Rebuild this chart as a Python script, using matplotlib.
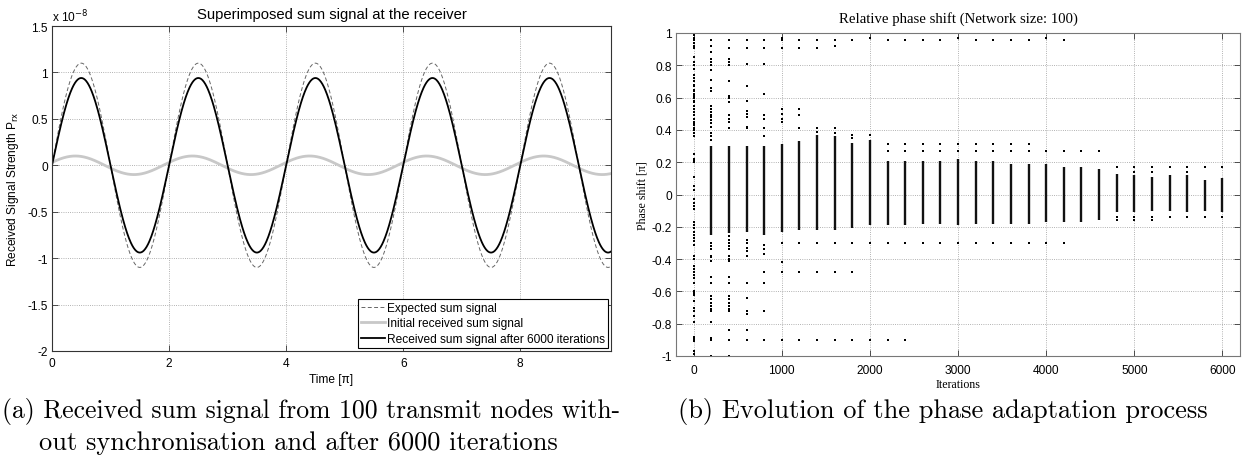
import numpy as np
import matplotlib
matplotlib.use("Agg")
import matplotlib.pyplot as plt

plt.rcParams["axes.unicode_minus"] = False
plt.rcParams["font.family"] = ["Liberation Sans", "DejaVu Sans"]

# ---- left panel: sum signal at the receiver (units of pi on the time axis)
time_end = 9.55
expected_amp = 1.10e-8
initial_amp = 0.10e-8
initial_phase = 0.10      # lead in units of pi
received_amp = 0.94e-8
y_scale = 1e-8

# ---- right panel: phase shift of each node, every 200 iterations
iterations = [0, 200, 400, 600, 800, 1000, 1200, 1400, 1600, 1800, 2000,
              2200, 2400, 2600, 2800, 3000, 3200, 3400, 3600, 3800, 4000,
              4200, 4400, 4600, 4800, 5000, 5200, 5400, 5600, 5800, 6000]

# dense core of each column (lowest, highest phase); nan = no dense core
band_lo = [np.nan, -0.25, -0.24, -0.23, -0.25, -0.23, -0.22, -0.22, -0.22, -0.21, -0.19,
           -0.19, -0.19, -0.18, -0.18, -0.19, -0.18, -0.18, -0.18, -0.18, -0.17,
           -0.17, -0.17, -0.16, -0.11, -0.11, -0.10, -0.10, -0.11, -0.10, -0.11]
band_hi = [np.nan, 0.30, 0.30, 0.30, 0.30, 0.31, 0.33, 0.37, 0.36, 0.32, 0.34,
           0.21, 0.21, 0.21, 0.21, 0.22, 0.21, 0.21, 0.19, 0.19, 0.19,
           0.17, 0.17, 0.16, 0.13, 0.12, 0.11, 0.12, 0.12, 0.09, 0.10]

# single nodes outside the dense core
scattered = [
    [0.99, 0.97, 0.955, 0.94, 0.92, 0.91, 0.85, 0.82, 0.80, 0.78, 0.74, 0.72, 0.70,
     0.68, 0.67, 0.65, 0.64, 0.62, 0.61, 0.60, 0.58, 0.57, 0.55, 0.53, 0.51, 0.49,
     0.47, 0.45, 0.44, 0.43, 0.41, 0.40, 0.38, 0.36, 0.25, 0.22, 0.21, 0.20, 0.11,
     0.05, 0.03, -0.03, -0.05, -0.07, -0.09, -0.17, -0.19, -0.21, -0.23, -0.25,
     -0.27, -0.29, -0.31, -0.38, -0.40, -0.44, -0.46, -0.48, -0.50, -0.52, -0.55,
     -0.60, -0.61, -0.62, -0.66, -0.70, -0.72, -0.75, -0.79, -0.88, -0.89, -0.90,
     -0.91, -0.97, -0.99],
    [1.0, 0.955, 0.92, 0.88, 0.84, 0.82, 0.80, 0.77, 0.71, 0.66, 0.64, 0.55, 0.53,
     0.51, 0.49, 0.48, 0.46, 0.44, 0.42, 0.38, 0.36, 0.34, -0.30, -0.32, -0.34,
     -0.38, -0.39, -0.41, -0.51, -0.55, -0.63, -0.65, -0.67, -0.69, -0.71, -0.72,
     -0.79, -0.89, -0.90, -1.0],
    [0.955, 0.91, 0.84, 0.82, 0.80, 0.70, 0.61, 0.60, 0.57, 0.49, 0.47, 0.45, 0.41,
     -0.26, -0.28, -0.30, -0.32, -0.34, -0.38, -0.40, -0.41, -0.51, -0.55, -0.63,
     -0.65, -0.67, -0.69, -0.71, -0.72, -0.84, -0.90, -1.0],
    [0.955, 0.91, 0.81, 0.67, 0.58, 0.52, 0.50, 0.48, 0.42, 0.41, -0.28, -0.30,
     -0.33, -0.35, -0.38, -0.55, -0.64, -0.72, -0.74, -0.84, -0.90],
    [0.955, 0.91, 0.81, 0.62, 0.49, 0.47, 0.41, 0.36, -0.31, -0.34, -0.37, -0.48,
     -0.55, -0.72, -0.90],
    [0.97, 0.955, 0.91, 0.53, 0.50, 0.47, 0.45, -0.30, -0.42, -0.48, -0.90],
    [0.955, 0.91, 0.53, 0.49, 0.41, -0.30, -0.48, -0.90],
    [0.955, 0.91, 0.41, 0.39, -0.30, -0.48, -0.90],
    [0.955, 0.92, 0.41, 0.38, -0.30, -0.48, -0.90],
    [0.955, 0.37, 0.35, -0.30, -0.48, -0.90],
    [0.97, 0.37, -0.30, -0.90],
    [0.955, 0.31, 0.27, -0.30, -0.90],
    [0.955, 0.31, 0.27, -0.30, -0.90],
    [0.955, 0.31, 0.27, -0.30],
    [0.955, 0.31, 0.27, -0.30],
    [0.97, 0.31, 0.27, -0.30],
    [0.955, 0.31, 0.27, -0.30],
    [0.955, 0.31, 0.27, -0.30],
    [0.955, 0.31, 0.27, -0.30],
    [0.955, 0.31, 0.27, -0.30],
    [0.97, 0.27, -0.30],
    [0.955, 0.27, -0.30],
    [0.27],
    [0.27],
    [0.17, -0.14, -0.16],
    [0.17, 0.14, -0.14, -0.16],
    [0.17, 0.14, -0.14, -0.16],
    [0.17, -0.14],
    [0.17, 0.14, -0.14],
    [0.17, -0.14],
    [0.17, -0.14],
]

W, H = 1252, 460
fig = plt.figure(figsize=(W / 100, H / 100), dpi=100)


def box(l, t, r, b):
    return [l / W, 1 - b / H, (r - l) / W, (b - t) / H]


def matlab_style(ax, spine_color):
    for s in ax.spines.values():
        s.set_color(spine_color)
        s.set_linewidth(0.8)
    ax.tick_params(direction="in", top=True, right=True, length=4,
                   width=0.6, color="#333333", labelsize=8.6, pad=4)
    ax.grid(True, linestyle=":", linewidth=0.6, color="#999999")
    ax.set_axisbelow(True)


# ---------------- (a) ----------------
ax1 = fig.add_axes(box(52, 27, 611, 352))
t = np.linspace(0, time_end, 1200)
ax1.plot(t, initial_amp * np.sin(np.pi * (t + initial_phase)) / y_scale,
         color="#c8c8c8", lw=2.0, label="Initial received sum signal")
ax1.plot(t, expected_amp * np.sin(np.pi * t) / y_scale, color="#666666",
         lw=0.7, dashes=(4, 2.5), label="Expected sum signal")
ax1.plot(t, received_amp * np.sin(np.pi * t) / y_scale, color="black",
         lw=1.3, label="Received sum signal after 6000 iterations")
ax1.set_xlim(0, time_end)
ax1.set_ylim(-2, 1.5)
ax1.set_xticks([0, 2, 4, 6, 8])
ax1.set_yticks([-2, -1.5, -1, -0.5, 0, 0.5, 1, 1.5])
ax1.set_yticklabels(["-2", "-1.5", "-1", "-0.5", "0", "0.5", "1", "1.5"])
matlab_style(ax1, "#333333")
ax1.tick_params(axis="y", pad=3)
ax1.set_title("Superimposed sum signal at the receiver", fontsize=10.7, pad=6)
ax1.set_xlabel("Time [π]", fontsize=8.6, labelpad=3)
ax1.set_ylabel("Received Signal Strength P$_{\\rm rx}$", fontsize=8.6, labelpad=5)
ax1.text(0.0, 1.006, "x 10$^{-8}$", transform=ax1.transAxes, fontsize=8.6,
         ha="left", va="bottom")

handles, labels = ax1.get_legend_handles_labels()
order = [1, 0, 2]
leg = ax1.legend([handles[i] for i in order], [labels[i] for i in order],
                 loc="lower right", fontsize=8.6, handlelength=2.0,
                 handletextpad=0.2, borderpad=0.25, labelspacing=0.3,
                 borderaxespad=0.25, fancybox=False, framealpha=1)
leg.get_frame().set_edgecolor("black")
leg.get_frame().set_linewidth(0.8)

# ---------------- (b) ----------------
ax2 = fig.add_axes(box(676, 34, 1240, 357))
ax2.vlines([it for it, lo in zip(iterations, band_lo) if not np.isnan(lo)],
           [lo for lo in band_lo if not np.isnan(lo)],
           [hi for hi in band_hi if not np.isnan(hi)],
           color="#111111", lw=1.7)
for it, pts in zip(iterations, scattered):
    ax2.plot([it] * len(pts), pts, "s", ms=1.9, color="black", mew=0)
ax2.set_xlim(-200, 6200)
ax2.set_ylim(-1, 1)
ax2.set_xticks([0, 1000, 2000, 3000, 4000, 5000, 6000])
ax2.set_yticks(np.arange(-1, 1.01, 0.2).round(1))
ax2.set_yticklabels(["-1", "-0.8", "-0.6", "-0.4", "-0.2", "0",
                     "0.2", "0.4", "0.6", "0.8", "1"])
matlab_style(ax2, "#777777")
ax2.tick_params(axis="y", pad=3)
ax2.tick_params(axis="x", pad=6)
serif = ["Liberation Serif", "DejaVu Serif"]
ax2.set_title("Relative phase shift (Network size: 100)", fontsize=10.6,
              family=serif, pad=8)
ax2.set_xlabel("Iterations", fontsize=8.6, family=serif, labelpad=1)
ax2.set_ylabel("Phase shift [π]", fontsize=8.6, family=serif, labelpad=2)

# ---------------- captions ----------------
cap = dict(family="cmr10", fontsize=19, va="baseline", ha="left")
fig.text(2 / W, 1 - 418 / H,
         "(a) Received sum signal from 100 transmit nodes with-",
         **{**cap, "fontsize": 18.5})
fig.text(39 / W, 1 - 450 / H, "out synchronisation and after 6000 iterations", **cap)
fig.text(678 / W, 1 - 418 / H, "(b) Evolution of the phase adaptation process", **cap)

fig.savefig("out.png", dpi=100)
